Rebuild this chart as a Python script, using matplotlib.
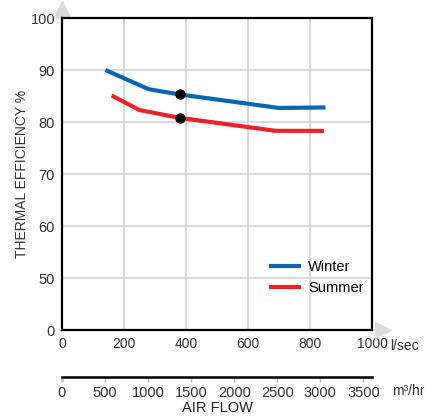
import matplotlib.pyplot as plt

plt.rcParams['font.family'] = ['Liberation Sans', 'DejaVu Sans']

# air flow in l/sec, thermal efficiency in %
winter_x = [140, 280, 380, 700, 850]
winter_y = [90.0, 86.3, 85.3, 82.7, 82.8]
summer_x = [160, 250, 380, 690, 845]
summer_y = [85.1, 82.3, 80.8, 78.3, 78.3]
dot_x = [380, 380]
dot_y = [85.3, 80.8]

# broken y axis: bottom tick stands for 0
y_ticks = [40, 50, 60, 70, 80, 90, 100]
y_labels = ['0', '50', '60', '70', '80', '90', '100']
x_ticks = [0, 200, 400, 600, 800, 1000]
m3_ticks = [0, 500, 1000, 1500, 2000, 2500, 3000, 3500]

fig = plt.figure(figsize=(4.26, 4.17), dpi=100)
ax = fig.add_axes([0.1455, 0.2086, 0.7277, 0.7482])

ax.plot(winter_x, winter_y, color='#0a66b2', lw=3, label='Winter', solid_capstyle='butt')
ax.plot(summer_x, summer_y, color='#ee2229', lw=3, label='Summer', solid_capstyle='butt')
ax.plot(dot_x, dot_y, 'o', color='black', ms=6.5, zorder=5)

ax.set_xlim(0, 1000)
ax.set_ylim(40, 100)
ax.set_xticks(x_ticks)
ax.set_yticks(y_ticks)
ax.set_yticklabels(y_labels)
ax.tick_params(length=0, colors='#333333', pad=5)
ax.tick_params(axis='y', labelsize=10.5)
ax.tick_params(axis='x', labelsize=10)
ax.grid(True, color='#d3d3d3', lw=1.2)
ax.set_axisbelow(True)
for s in ax.spines.values():
    s.set_linewidth(1.6)
    s.set_color('black')
ax.set_ylabel('THERMAL EFFICIENCY %', fontsize=10, color='#333333', labelpad=1)
ax.text(1.058, -0.05, 'l/sec', transform=ax.transAxes, fontsize=10, color='#333333',
        ha='left', va='center')

# gray arrow heads
ax.plot([0], [1.03], marker='^', ms=11, color='#dcdcdc', transform=ax.transAxes, clip_on=False)
ax.plot([1.035], [0], marker='>', ms=11, color='#dcdcdc', transform=ax.transAxes, clip_on=False)

ax.legend(loc='lower right', bbox_to_anchor=(1.015, 0.07), frameon=False, fontsize=10.5,
          handlelength=2.2, handletextpad=0.5, labelspacing=0.5)

# second axis in m3/hr
ax2 = fig.add_axes([0.1455, 0.0959, 0.7277, 0.0001])
ax2.set_xlim(0, 3600)
ax2.set_ylim(0, 1)
ax2.set_xticks(m3_ticks)
ax2.set_yticks([])
for k in ['left', 'right', 'top']:
    ax2.spines[k].set_visible(False)
ax2.spines['bottom'].set_linewidth(1.8)
ax2.tick_params(axis='x', direction='out', length=3.5, width=1, color='#c0c0c0',
                labelsize=10.5, labelcolor='#333333', pad=3)
t0 = ax2.xaxis.get_major_ticks()[0]
t0.tick1line.set_color('black')
t0.tick1line.set_markeredgewidth(1.8)
ax2.set_xlabel('AIR FLOW', fontsize=10.5, color='#222222', labelpad=1)
ax2.annotate('m³/hr', xy=(1.065, 0), xycoords='axes fraction', xytext=(0, -10),
             textcoords='offset points', fontsize=10, color='#333333',
             ha='left', va='center')

fig.savefig('out.png', dpi=100)
